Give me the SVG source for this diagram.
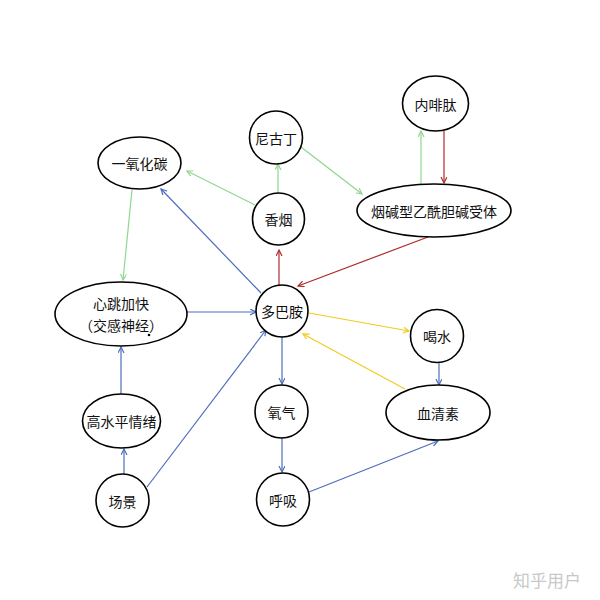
<svg xmlns="http://www.w3.org/2000/svg" width="600" height="600" viewBox="0 0 600 600">
<defs>
<style>
.n{fill:#fff;stroke:#000;stroke-width:1.6}
.t{font-family:"Noto Sans CJK SC","Microsoft YaHei",sans-serif;font-size:14px;fill:#111;text-anchor:middle;dominant-baseline:central}
.c{fill:none;stroke-width:1.2}
.g{stroke:#8fd68f}.b{stroke:#4d6dbd}.r{stroke:#b02a2a}.y{stroke:#f0cc20}
.wm{font-family:"Noto Sans CJK SC",sans-serif;font-size:17px;fill:#c8c8c8;text-anchor:middle;dominant-baseline:central}
</style>
<marker id="mg" markerWidth="8" markerHeight="8" refX="6" refY="3" orient="auto" markerUnits="userSpaceOnUse"><path d="M0,0 L6,3 L0,6" fill="none" stroke="#8fd68f" stroke-width="1.2"/></marker>
<marker id="mb" markerWidth="8" markerHeight="8" refX="6" refY="3" orient="auto" markerUnits="userSpaceOnUse"><path d="M0,0 L6,3 L0,6" fill="none" stroke="#4d6dbd" stroke-width="1.2"/></marker>
<marker id="mr" markerWidth="8" markerHeight="8" refX="6" refY="3" orient="auto" markerUnits="userSpaceOnUse"><path d="M0,0 L6,3 L0,6" fill="none" stroke="#b02a2a" stroke-width="1.2"/></marker>
<marker id="my" markerWidth="8" markerHeight="8" refX="6" refY="3" orient="auto" markerUnits="userSpaceOnUse"><path d="M0,0 L6,3 L0,6" fill="none" stroke="#f0cc20" stroke-width="1.2"/></marker>
</defs>
<rect width="600" height="600" fill="#fff"/>
<g id="connectors">
<line class="c g" x1="255" y1="205" x2="187" y2="171" marker-end="url(#mg)"/>
<line class="c g" x1="278" y1="193" x2="278" y2="164" marker-end="url(#mg)"/>
<line class="c g" x1="301" y1="147" x2="362" y2="194" marker-end="url(#mg)"/>
<line class="c g" x1="421" y1="185" x2="421" y2="131" marker-end="url(#mg)"/>
<line class="c r" x1="444" y1="131" x2="444" y2="183" marker-end="url(#mr)"/>
<line class="c r" x1="428" y1="237" x2="298" y2="286" marker-end="url(#mr)"/>
<line class="c r" x1="279" y1="285" x2="279" y2="250" marker-end="url(#mr)"/>
<line class="c b" x1="261" y1="293" x2="161" y2="189" marker-end="url(#mb)"/>
<line class="c g" x1="132" y1="190" x2="123" y2="280" marker-end="url(#mg)"/>
<line class="c b" x1="187" y1="312" x2="256" y2="312" marker-end="url(#mb)"/>
<line class="c b" x1="121" y1="394" x2="121" y2="347" marker-end="url(#mb)"/>
<line class="c b" x1="124" y1="474" x2="124" y2="449" marker-end="url(#mb)"/>
<line class="c b" x1="147" y1="487" x2="266" y2="330" marker-end="url(#mb)"/>
<line class="c b" x1="282" y1="337" x2="282" y2="384" marker-end="url(#mb)"/>
<line class="c b" x1="282" y1="438" x2="282" y2="472" marker-end="url(#mb)"/>
<line class="c b" x1="309" y1="492" x2="438" y2="441" marker-end="url(#mb)"/>
<line class="c y" x1="309" y1="313" x2="409" y2="331" marker-end="url(#my)"/>
<line class="c y" x1="405" y1="389" x2="303" y2="334" marker-end="url(#my)"/>
<line class="c b" x1="439" y1="363" x2="439" y2="385" marker-end="url(#mb)"/>
</g>
<g id="n-co"><ellipse class="n" cx="139.5" cy="163" rx="41.5" ry="26"/><text class="t" x="139.5" y="163">一氧化碳</text></g>
<g id="n-nicotine"><circle class="n" cx="276" cy="137.5" r="26.5"/><text class="t" x="276" y="137.5">尼古丁</text></g>
<g id="n-cigarette"><circle class="n" cx="278.5" cy="219" r="26"/><text class="t" x="278.5" y="219">香烟</text></g>
<g id="n-endorphin"><ellipse class="n" cx="435.5" cy="103.5" rx="33" ry="27.5"/><text class="t" x="435.5" y="103.5">内啡肽</text></g>
<g id="n-nachr"><ellipse class="n" cx="434" cy="210.5" rx="77" ry="26.5"/><text class="t" x="434" y="210.5">烟碱型乙酰胆碱受体</text></g>
<g id="n-heart"><ellipse class="n" cx="121" cy="314" rx="66" ry="32"/><text class="t" x="121" y="303">心跳加快</text><text class="t" x="121" y="325">（交感神经）</text><circle cx="149" cy="335" r="1.3" fill="#000"/></g>
<g id="n-dopamine"><circle class="n" cx="282" cy="311" r="26"/><text class="t" x="282" y="311">多巴胺</text></g>
<g id="n-water"><circle class="n" cx="437" cy="336" r="26.5"/><text class="t" x="437" y="336">喝水</text></g>
<g id="n-serotonin"><ellipse class="n" cx="438" cy="412.5" rx="52" ry="27.5"/><text class="t" x="438" y="412.5">血清素</text></g>
<g id="n-oxygen"><circle class="n" cx="281.5" cy="411.5" r="26.5"/><text class="t" x="281.5" y="411.5">氧气</text></g>
<g id="n-breath"><circle class="n" cx="283" cy="499.5" r="26.5"/><text class="t" x="283" y="499.5">呼吸</text></g>
<g id="n-emotion"><ellipse class="n" cx="121.5" cy="421" rx="39" ry="27"/><text class="t" x="121.5" y="421">高水平情绪</text></g>
<g id="n-scene"><circle class="n" cx="122.5" cy="500.5" r="26.5"/><text class="t" x="122.5" y="500.5">场景</text></g>
<text class="wm" x="547" y="579">知乎用户</text>
</svg>
